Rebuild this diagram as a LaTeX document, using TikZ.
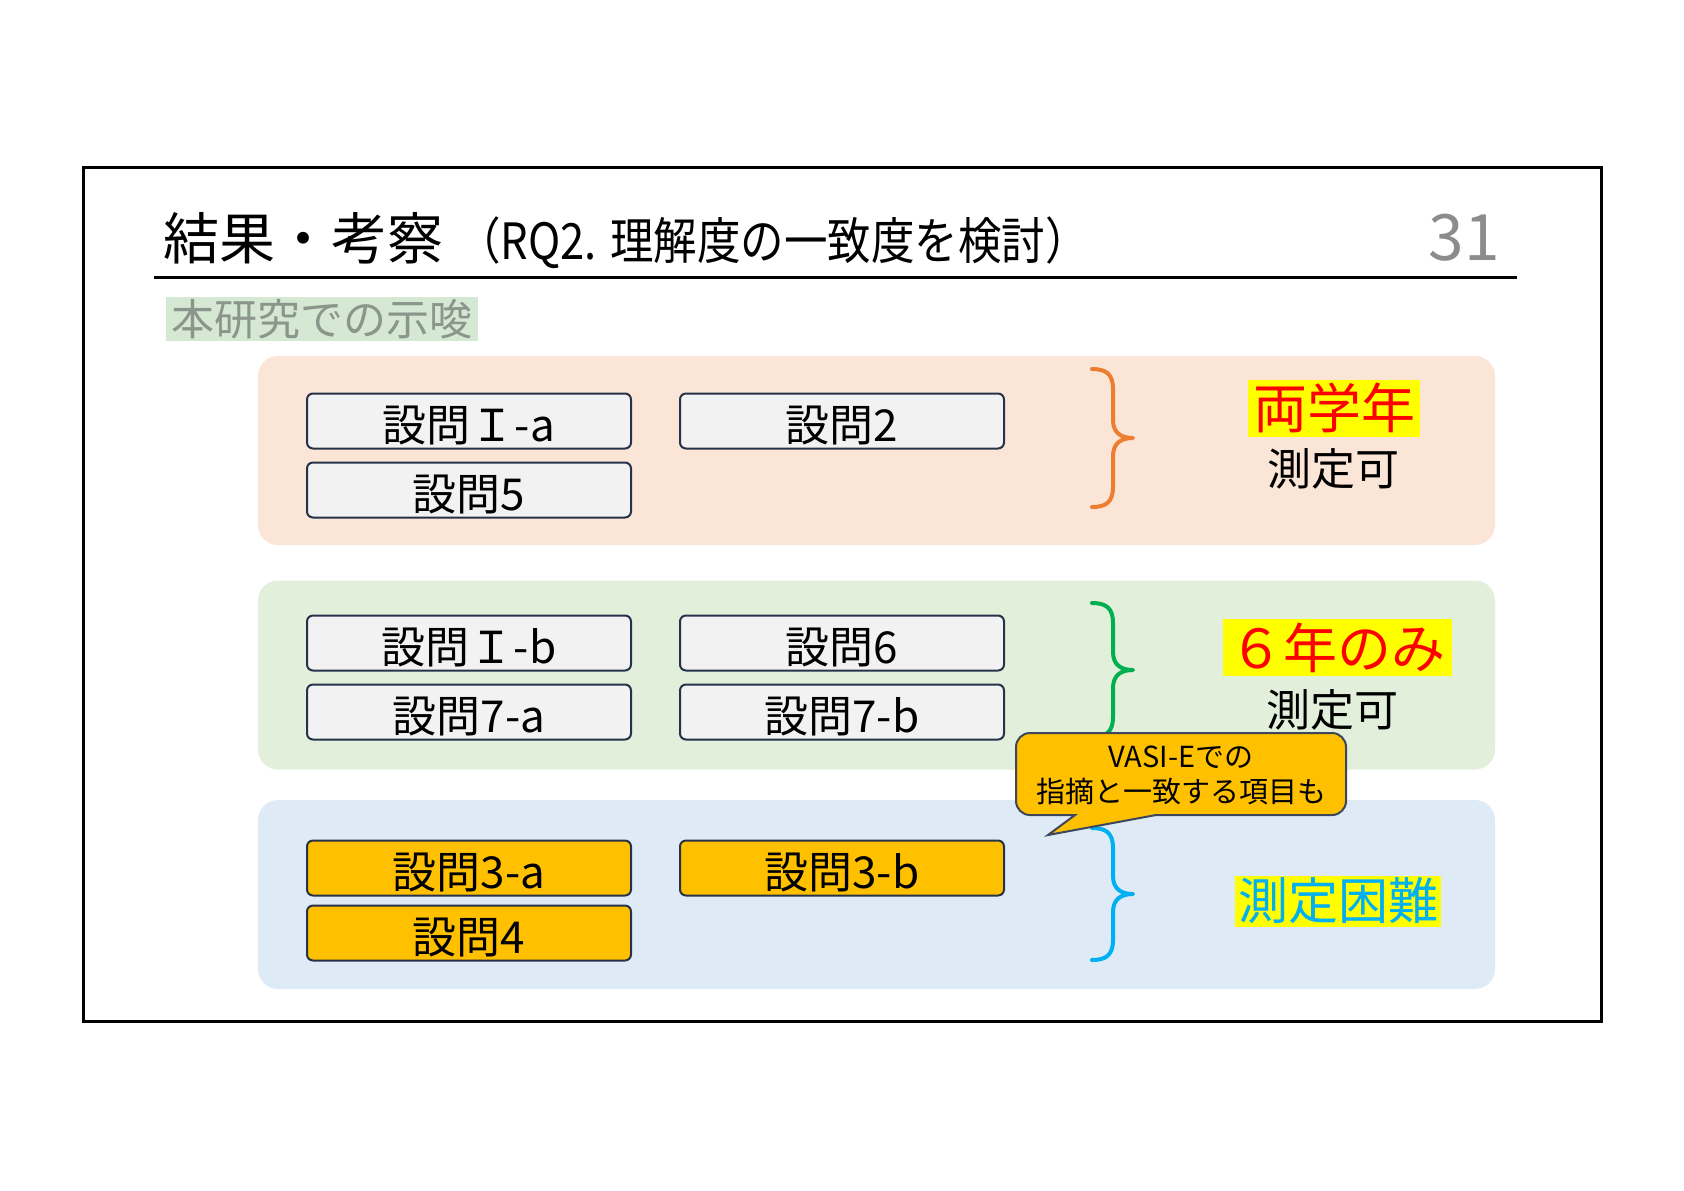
\documentclass[tikz,border=0pt]{standalone}
\usepackage{fontspec}
\setmainfont{Noto Sans CJK JP}
\newfontfamily\narrowjp[FakeStretch=0.87]{Noto Sans CJK JP}
\definecolor{panelO}{HTML}{FBE5D6}
\definecolor{panelG}{HTML}{E2EFDA}
\definecolor{panelB}{HTML}{DEEBF7}
\definecolor{boxgray}{HTML}{F2F2F2}
\definecolor{boxline}{HTML}{26324A}
\definecolor{amber}{HTML}{FFC000}
\definecolor{braceO}{HTML}{ED7D31}
\definecolor{braceG}{HTML}{00B050}
\definecolor{braceB}{HTML}{00B0F0}
\definecolor{hlyellow}{HTML}{FFFF00}
\definecolor{subbg}{HTML}{D5E8D4}
\definecolor{subtext}{HTML}{8A968A}
\definecolor{pagegray}{HTML}{8C8C8C}
\newcommand\mybrace[4]{%
  \draw[bracestyle, draw=#1] (1092,#2) .. controls (1106,#2) and (1113,{#2+5}) .. (1113,{#2+20})
    -- (1113,{#3-18}) .. controls (1113,{#3-6}) and (1120,#3) .. (1133,#3)
    .. controls (1120,#3) and (1113,{#3+6}) .. (1113,{#3+18})
    -- (1113,{#4-20}) .. controls (1113,{#4-5}) and (1106,#4) .. (1092,#4);}
\begin{document}
\begin{tikzpicture}[x=0.5pt,y=-0.5pt,
  panel/.style={rounded corners=10pt, minimum width=618.5pt, minimum height=94.5pt, inner sep=0pt, draw=none},
  qbox/.style={draw=boxline, line width=1pt, rounded corners=3pt, fill=boxgray, minimum width=162pt, minimum height=27.5pt, inner sep=0pt, text height=20.5pt, text depth=0pt, font=\fontsize{22}{24}\selectfont},
  qboxy/.style={qbox, fill=amber},
  hl/.style={fill=hlyellow, inner sep=0pt},
  sokutei/.style={inner sep=0pt, font=\fontsize{22}{24}\selectfont},
  bracestyle/.style={line width=2pt, line cap=round, line join=round},
  callout/.style={fill=amber, draw=boxline!90, line width=1pt}
]
\useasboundingbox (0,0) rectangle (1684,1190);
\fill[white] (0,0) rectangle (1684,1190);
% frame
\draw[line width=1.5pt] (83,167) rectangle (1601,1021);
% title
\node[anchor=base west, inner sep=0pt] (title) at (163,259)
  {{\fontsize{28}{30}\selectfont 結果・考察}\hspace{7pt}{\narrowjp\fontsize{25}{28}\selectfont （RQ2. 理解度の一致度を検討）}};
\node[anchor=base east, inner sep=0pt, text=pagegray, font=\fontsize{32}{34}\selectfont] (page) at (1500,260) {31};
\draw[line width=1.5pt] (154,277) -- (1517,277);
% subtitle
\node[fill=subbg, text=subtext, inner sep=0pt, minimum width=156pt, minimum height=22pt, font=\fontsize{21.5}{23}\selectfont] (sub) at (322,319) {本研究での示唆};
% panels
\node[panel, fill=panelO] (pO) at (876.5,450.5) {};
\node[panel, fill=panelG] (pG) at (876.5,675) {};
\node[panel, fill=panelB] (pB) at (876.5,894.5) {};
% boxes
\node[qbox] (q1a) at (469,421) {設問Ｉ-a};
\node[qbox] (q2)  at (842,421) {設問2};
\node[qbox] (q5)  at (469,490) {設問5};
\node[qbox] (q1b) at (469,643) {設問Ｉ-b};
\node[qbox] (q6)  at (842,643) {設問6};
\node[qbox] (q7a) at (469,712) {設問7-a};
\node[qbox] (q7b) at (842,712) {設問7-b};
\node[qboxy] (q3a) at (469,868) {設問3-a};
\node[qboxy] (q3b) at (842,868) {設問3-b};
\node[qboxy] (q4)  at (469,933) {設問4};
% braces
\mybrace{braceO}{369}{438}{507}
\mybrace{braceG}{603}{670}{737}
\mybrace{braceB}{828}{894}{960}
% labels
\node[hl, text=red, minimum width=86pt, minimum height=28.5pt, font=\fontsize{27}{29}\selectfont] (lO1) at (1334,408) {両学年};
\node[sokutei] (lO2) at (1333,469) {測定可};
\node[hl, text=red, minimum width=114.5pt, minimum height=28.5pt, font=\fontsize{27}{29}\selectfont] (lG1) at (1337.5,647.5) {６年のみ};
\node[sokutei] (lG2) at (1332,710) {測定可};
\node[hl, text=braceB, minimum width=103pt, minimum height=25.5pt, font=\fontsize{25}{27}\selectfont] (lB1) at (1338,901) {測定困難};
% callout
\draw[callout] (1048,835) -- (1156,815) {[rounded corners=7pt] -- (1346,815) -- (1346,733) -- (1016,733) -- (1016,815)} -- (1075,815) -- cycle;
\node[align=center, inner sep=0pt, font=\fontsize{14.5}{17.5}\selectfont] (callt) at (1181,775) {VASI-Eでの\\指摘と一致する項目も};
\end{tikzpicture}
\end{document}
